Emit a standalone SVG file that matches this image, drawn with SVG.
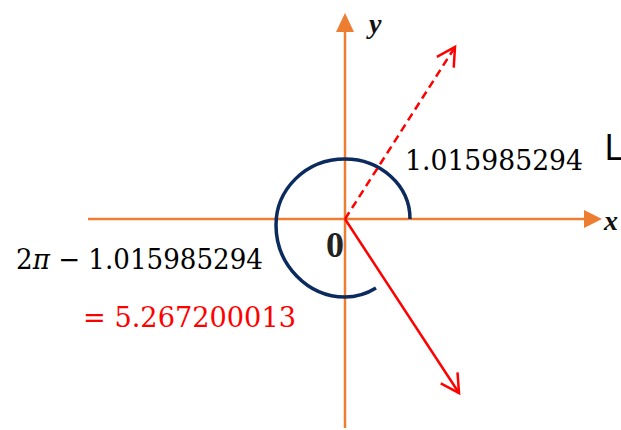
<svg xmlns="http://www.w3.org/2000/svg" width="621" height="430" viewBox="0 0 621 430">
<defs>
<style>
.axis{stroke:#ED7D31;stroke-width:2.5;fill:none}
.ahead{fill:#ED7D31}
.vec{stroke:#FF0000;stroke-width:2.5;fill:none}
.arc{stroke:#0B2A5E;stroke-width:3.5;fill:none;stroke-linecap:butt}
.num{font-family:"DejaVu Serif","Liberation Serif",serif;font-size:28px;fill:#000}
.lbl{font-family:"Liberation Serif",serif;font-style:italic;font-weight:bold;font-size:28px;fill:#111}
</style>
<marker id="chev" markerUnits="userSpaceOnUse" markerWidth="30" markerHeight="30" refX="0" refY="0" viewBox="-22 -15 30 30" orient="auto" overflow="visible">
<path d="M-18,-10 L0,0 L-18,10" stroke="#FF0000" stroke-width="2.5" fill="none" stroke-linejoin="miter"/>
</marker>
</defs>
<rect width="621" height="430" fill="#FFFFFF"/>
<g id="axes">
<line class="axis" x1="88" y1="219" x2="588" y2="219"/>
<polygon class="ahead" points="602,219 584,210 584,228"/>
<line class="axis" x1="345" y1="428" x2="345" y2="30"/>
<polygon class="ahead" points="345,13 336,32 354,32"/>
<text class="lbl" x="369" y="33">y</text>
<text class="lbl" x="604" y="230">x</text>
<text x="326" y="257" font-family="Liberation Serif,serif" font-weight="bold" font-size="36" fill="#222">0</text>
</g>
<g id="connectors">
<path class="arc" d="M410,219 C410,185 380,159 345,159 C305,159 276,190 276,225 C276,265 308,297 345,297 C358,297 368,293 376,288"/>
<line class="vec" x1="345" y1="219" x2="455" y2="47" stroke-dasharray="8,5" marker-end="url(#chev)"/>
<line class="vec" x1="345" y1="219" x2="459" y2="393" marker-end="url(#chev)"/>
</g>
<g id="labels">
<text class="num" x="405" y="170" textLength="178" lengthAdjust="spacingAndGlyphs">1.015985294</text>
<text class="num" x="16" y="269" textLength="247" lengthAdjust="spacingAndGlyphs">2<tspan font-style="italic">π</tspan> − 1.015985294</text>
<text class="num" x="83" y="327" fill="#FF0000" style="fill:#FF0000" textLength="213" lengthAdjust="spacingAndGlyphs">= 5.267200013</text>
<text x="604" y="160" font-family="Open Sans,Liberation Sans,sans-serif" font-size="37" fill="#000">L</text>
</g>
</svg>
